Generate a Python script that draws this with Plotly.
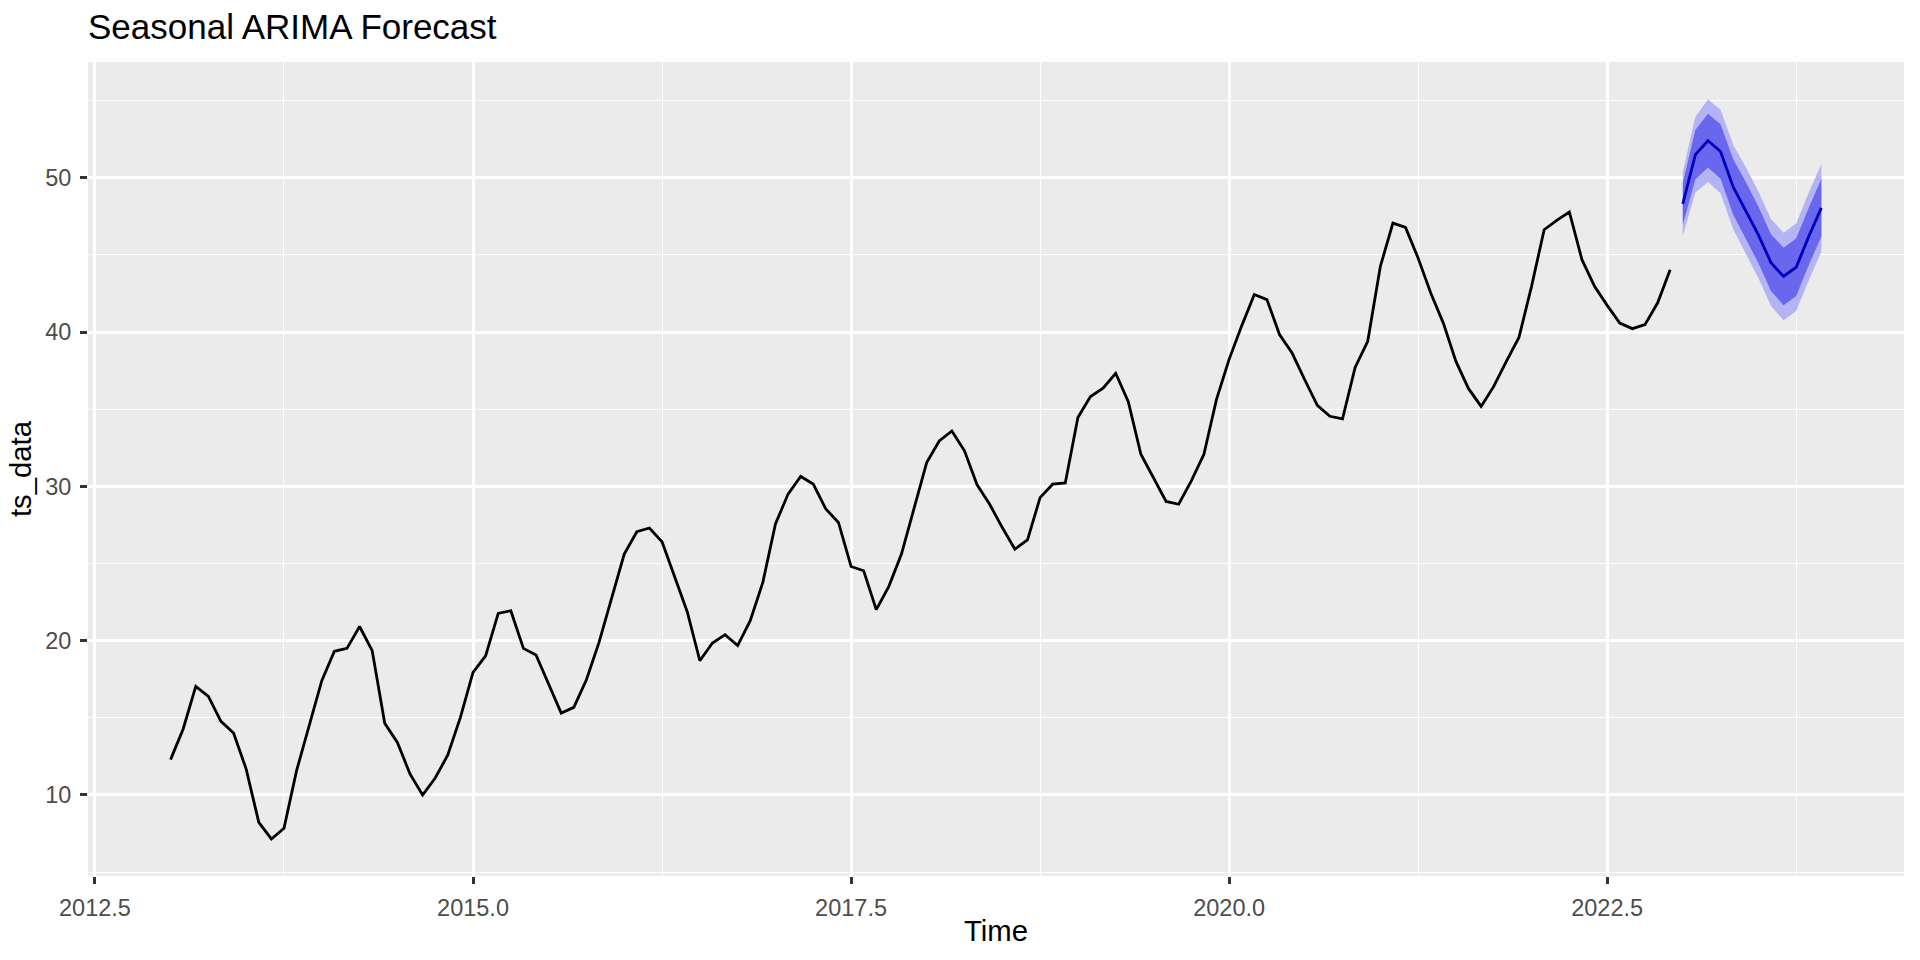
import plotly.graph_objects as go

# ---- data (monthly series starting 2013 Jan, frequency 12) ----
start_year = 2013
frequency = 12

ts_values = [
    12.29, 14.28, 17.04, 16.39, 14.77, 14.02, 11.68, 8.23, 7.15, 7.84, 11.58, 14.49,
    17.41, 19.31, 19.50, 20.92, 19.35, 14.64, 13.41, 11.36, 10.00, 11.10, 12.59, 15.03,
    17.94, 19.02, 21.77, 21.94, 19.50, 19.07, 17.19, 15.31, 15.68, 17.47, 19.89, 22.81,
    25.61, 27.06, 27.30, 26.41, 24.17, 21.88, 18.70, 19.85, 20.39, 19.68, 21.30, 23.78,
    27.56, 29.50, 30.64, 30.15, 28.53, 27.66, 24.81, 24.53, 22.01, 23.52, 25.61, 28.64,
    31.54, 32.94, 33.59, 32.30, 30.10, 28.84, 27.33, 25.93, 26.53, 29.27, 30.14, 30.22,
    34.46, 35.82, 36.36, 37.33, 35.49, 32.08, 30.57, 29.02, 28.84, 30.35, 32.08, 35.64,
    38.23, 40.40, 42.43, 42.10, 39.84, 38.64, 36.91, 35.25, 34.54, 34.38, 37.71, 39.40,
    44.25, 47.06, 46.78, 44.79, 42.53, 40.58, 38.10, 36.33, 35.18, 36.48, 38.10, 39.65,
    42.96, 46.63, 47.24, 47.78, 44.69, 42.96, 41.73, 40.58, 40.22, 40.48, 41.88, 44.04,
]

fc_mean = [48.30, 51.50, 52.40, 51.70, 49.40, 47.90, 46.30, 44.50, 43.60, 44.20, 46.20, 48.05]
fc_hi95 = [50.36, 53.95, 55.07, 54.40, 52.14, 50.68, 49.10, 47.32, 46.44, 47.04, 49.04, 50.89]
fc_lo95 = [46.24, 49.05, 49.73, 49.00, 46.66, 45.12, 43.50, 41.68, 40.76, 41.36, 43.36, 45.21]
fc_hi80 = [49.64, 53.10, 54.14, 53.47, 51.19, 49.72, 48.13, 46.34, 45.46, 46.06, 48.06, 49.91]
fc_lo80 = [46.96, 49.90, 50.66, 49.93, 47.61, 46.08, 44.47, 42.66, 41.74, 42.34, 44.34, 46.19]

x_tickvals = [2012.5, 2015.0, 2017.5, 2020.0, 2022.5]
x_ticktext = ["2012.5", "2015.0", "2017.5", "2020.0", "2022.5"]
y_tickvals = [10, 20, 30, 40, 50]
y_ticktext = ["10", "20", "30", "40", "50"]

title_text = "Seasonal ARIMA Forecast"
x_title = "Time"
y_title = "ts_data"

# ---- time index ----
t_hist = [start_year + i / frequency for i in range(len(ts_values))]
t_end = start_year + len(ts_values) / frequency
t_fc = [t_end + i / frequency for i in range(len(fc_mean))]

FONT = "Liberation Sans, Arial, Helvetica, sans-serif"
LIGHT = "#B4B3F4"
DARK = "#6967EE"

fig = go.Figure()

fig.add_trace(go.Scatter(x=t_hist, y=ts_values, mode="lines",
                         line=dict(color="black", width=2.8), showlegend=False,
                         hoverinfo="skip"))

# 95% band
fig.add_trace(go.Scatter(x=t_fc, y=fc_lo95, mode="lines", line=dict(width=0, color=LIGHT),
                         showlegend=False, hoverinfo="skip"))
fig.add_trace(go.Scatter(x=t_fc, y=fc_hi95, mode="lines", line=dict(width=0, color=LIGHT),
                         fill="tonexty", fillcolor=LIGHT, showlegend=False, hoverinfo="skip"))
# 80% band
fig.add_trace(go.Scatter(x=t_fc, y=fc_lo80, mode="lines", line=dict(width=0, color=DARK),
                         showlegend=False, hoverinfo="skip"))
fig.add_trace(go.Scatter(x=t_fc, y=fc_hi80, mode="lines", line=dict(width=0, color=DARK),
                         fill="tonexty", fillcolor=DARK, showlegend=False, hoverinfo="skip"))
# point forecast
fig.add_trace(go.Scatter(x=t_fc, y=fc_mean, mode="lines",
                         line=dict(color="#0000BB", width=2.8), showlegend=False,
                         hoverinfo="skip"))

axis_common = dict(
    showgrid=True, gridcolor="white", gridwidth=2.8,
    zeroline=False, showline=False,
    ticks="outside", ticklen=7, tickwidth=2.6, tickcolor="#333333",
    tickfont=dict(family=FONT, size=23.5, color="#4D4D4D"),
    automargin=False,
)

fig.update_layout(
    width=1920, height=960,
    margin=dict(l=88, r=16, t=62, b=84),
    paper_bgcolor="white", plot_bgcolor="#EBEBEB",
    font=dict(family=FONT, color="black"),
    title=dict(text=title_text, x=88 / 1920, xanchor="left", xref="container",
               y=1 - 27 / 960, yanchor="middle", yref="container",
               font=dict(family=FONT, size=35, color="black")),
    xaxis=dict(range=[2012.454, 2024.463], tickmode="array",
               tickvals=x_tickvals, ticktext=x_ticktext,
               minor=dict(dtick=1.25, tick0=2012.5, showgrid=True,
                          gridcolor="white", gridwidth=1.4, ticks=""),
               title=dict(text=x_title, font=dict(family=FONT, size=29.3, color="black"),
                          standoff=0),
               ticklabelstandoff=4,
               **axis_common),
    yaxis=dict(range=[4.75, 57.5], tickmode="array",
               tickvals=y_tickvals, ticktext=y_ticktext,
               minor=dict(dtick=5, tick0=0, showgrid=True,
                          gridcolor="white", gridwidth=1.4, ticks=""),
               title=dict(text=y_title, font=dict(family=FONT, size=29.3, color="black"),
                          standoff=4),
               ticklabelstandoff=4,
               **axis_common),
)

fig.write_html(
    "out.html",
    config={"displayModeBar": False},
    post_script="document.body.style.margin='0';document.body.style.overflow='hidden';",
)
